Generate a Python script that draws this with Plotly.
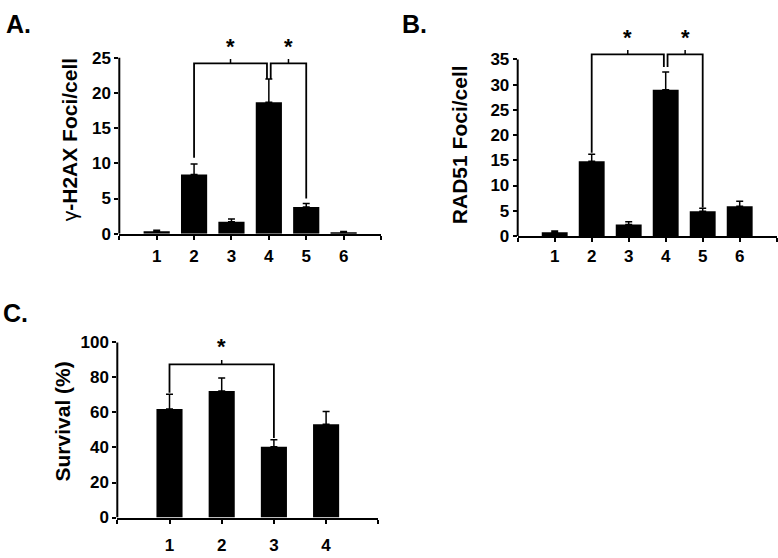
import plotly.graph_objects as go

W, H = 778, 558

# ---------------- data ----------------
# Panel A: gamma-H2AX foci per cell
cats_a = [1, 2, 3, 4, 5, 6]
h2ax_mean = [0.35, 8.4, 1.7, 18.7, 3.8, 0.2]
h2ax_err_top = [0.5, 9.9, 2.1, 22.0, 4.3, 0.3]
ticks_a = [0, 5, 10, 15, 20, 25]

# Panel B: RAD51 foci per cell
cats_b = [1, 2, 3, 4, 5, 6]
rad51_mean = [0.75, 14.8, 2.25, 29.0, 4.9, 5.9]
rad51_err_top = [1.0, 16.2, 2.8, 32.5, 5.5, 6.9]
ticks_b = [0, 5, 10, 15, 20, 25, 30, 35]

# Panel C: survival (%)
cats_c = [1, 2, 3, 4]
survival_mean = [62.0, 72.2, 40.4, 53.3]
survival_err_top = [70.4, 79.6, 44.4, 60.6]
ticks_c = [0, 20, 40, 60, 80, 100]

# significance brackets: categories compared, bracket level, end levels, star level
sig_a = [
    dict(c0=2, c1=4, level=24.2, end0=10.8, end1=22.0, star=26.8),
    dict(c0=4, c1=5, level=24.2, end0=22.0, end1=5.0, star=26.8),
]
sig_b = [
    dict(c0=2, c1=4, level=36.0, end0=16.5, end1=33.5, star=39.5),
    dict(c0=4, c1=5, level=36.0, end0=33.5, end1=5.65, star=39.5),
]
sig_c = [
    dict(c0=1, c1=3, level=87.4, end0=71.3, end1=45.4, star=98.0),
]

FONT = "Liberation Sans, Arial, sans-serif"

# panel geometry in pixels: x-axis start/end, y pixel of 0 and of the top tick
panels = [
    dict(name="A.", cats=cats_a, mean=h2ax_mean, top=h2ax_err_top, ticks=ticks_a,
         sig=sig_a, x0px=119.3, x1px=381.0, y0px=235.0, ytpx=54.3, rtop=28.5,
         bw=0.7, title="<span style='font-weight:normal'>γ</span>-H2AX Foci/cell",
         tcx=69, tcy=139, lab=(18, 20), stand=2),
    dict(name="B.", cats=cats_b, mean=rad51_mean, top=rad51_err_top, ticks=ticks_b,
         sig=sig_b, x0px=517.7, x1px=776.7, y0px=237.3, ytpx=56.0, rtop=42.0,
         bw=0.7, title="RAD51 Foci/cell", tcx=459, tcy=144, lab=(414, 20), stand=0),
    dict(name="C.", cats=cats_c, mean=survival_mean, top=survival_err_top, ticks=ticks_c,
         sig=sig_c, x0px=117.3, x1px=378.3, y0px=526.7, ytpx=346.7, rtop=102.0,
         bw=0.5, title="Survival (%)", tcx=62, tcy=428, lab=(15, 317), stand=7),
]

fig = go.Figure()
shapes = []
annotations = []
layout_axes = {}

for i, p in enumerate(panels):
    k = "" if i == 0 else str(i + 1)
    xname, yname = "x" + k, "y" + k
    n = len(p["cats"])
    tmax = p["ticks"][-1]
    scale = (p["y0px"] - p["ytpx"]) / tmax  # px per unit
    top_px = p["y0px"] - p["rtop"] * scale
    ydom = [(H - p["y0px"]) / H, (H - top_px) / H]
    xdom = [p["x0px"] / W, p["x1px"] / W]

    fig.add_trace(go.Bar(
        x=p["cats"], y=p["mean"], width=p["bw"],
        marker=dict(color="black", line=dict(width=0)),
        error_y=dict(type="data", symmetric=False,
                     array=[t - m for t, m in zip(p["top"], p["mean"])],
                     arrayminus=[0] * n, color="black", thickness=1.5, width=3.5),
        xaxis=xname, yaxis=yname, showlegend=False, hoverinfo="skip",
    ))

    layout_axes["xaxis" + k] = dict(
        domain=xdom, range=[0, n + 1], anchor=yname,
        tickvals=list(range(0, n + 2)),
        ticktext=[""] + [str(c) for c in p["cats"]] + [""],
        ticks="outside", ticklen=4, tickwidth=1.5, tickcolor="black",
        showline=True, linewidth=2, linecolor="black",
        showgrid=False, zeroline=False, ticklabelstandoff=p["stand"],
        tickfont=dict(family=FONT, size=17, color="black", weight="bold"),
    )
    layout_axes["yaxis" + k] = dict(
        domain=ydom, range=[0, p["rtop"]], anchor=xname,
        tickvals=p["ticks"], ticktext=[str(t) for t in p["ticks"]],
        ticks="outside", ticklen=4, tickwidth=1.5, tickcolor="black",
        showline=False, showgrid=False, zeroline=False,
        tickfont=dict(family=FONT, size=17, color="black", weight="bold"),
    )

    # y-axis line up to the top tick
    shapes.append(dict(type="line", xref=xname + " domain", yref=yname,
                       x0=0, x1=0, y0=0, y1=tmax,
                       line=dict(color="black", width=2)))

    # significance brackets
    tick_h = 4.5 / scale
    for s in p["sig"]:
        xa, xb = s["c0"], s["c1"]
        shared = [b for b in p["sig"] if b is not s]
        if any(b["c0"] == xa or b["c1"] == xa for b in shared):
            xa += 0.05
        if any(b["c0"] == xb or b["c1"] == xb for b in shared):
            xb -= 0.05
        path = (f"M {xa},{s['end0']} L {xa},{s['level']} "
                f"L {xb},{s['level']} L {xb},{s['end1']}")
        shapes.append(dict(type="path", xref=xname, yref=yname, path=path,
                           line=dict(color="black", width=1.8)))
        mid = (xa + xb) / 2
        shapes.append(dict(type="line", xref=xname, yref=yname,
                           x0=mid, x1=mid, y0=s["level"], y1=s["level"] + tick_h,
                           line=dict(color="black", width=1.5)))
        annotations.append(dict(xref=xname, yref=yname, x=mid, y=s["star"],
                                text="*", showarrow=False, yshift=-1,
                                font=dict(family=FONT, size=22, color="black",
                                          weight="bold")))

    # axis title
    annotations.append(dict(xref="paper", yref="paper", x=p["tcx"] / W,
                            y=(H - p["tcy"]) / H, text=p["title"], textangle=-90,
                            showarrow=False, xanchor="center", yanchor="middle",
                            font=dict(family=FONT, size=21, color="black",
                                      weight="bold")))
    # panel label
    annotations.append(dict(xref="paper", yref="paper", x=p["lab"][0] / W,
                            y=(H - p["lab"][1]) / H, text=p["name"],
                            showarrow=False, xanchor="center", yanchor="middle",
                            font=dict(family=FONT, size=25, color="black",
                                      weight="bold")))

fig.update_layout(
    width=W, height=H, margin=dict(l=0, r=0, t=0, b=0),
    paper_bgcolor="white", plot_bgcolor="white",
    showlegend=False, shapes=shapes, annotations=annotations,
    **layout_axes,
)

fig.write_html("out.html", config={"displayModeBar": False},
               post_script="document.body.style.margin='0px';")
